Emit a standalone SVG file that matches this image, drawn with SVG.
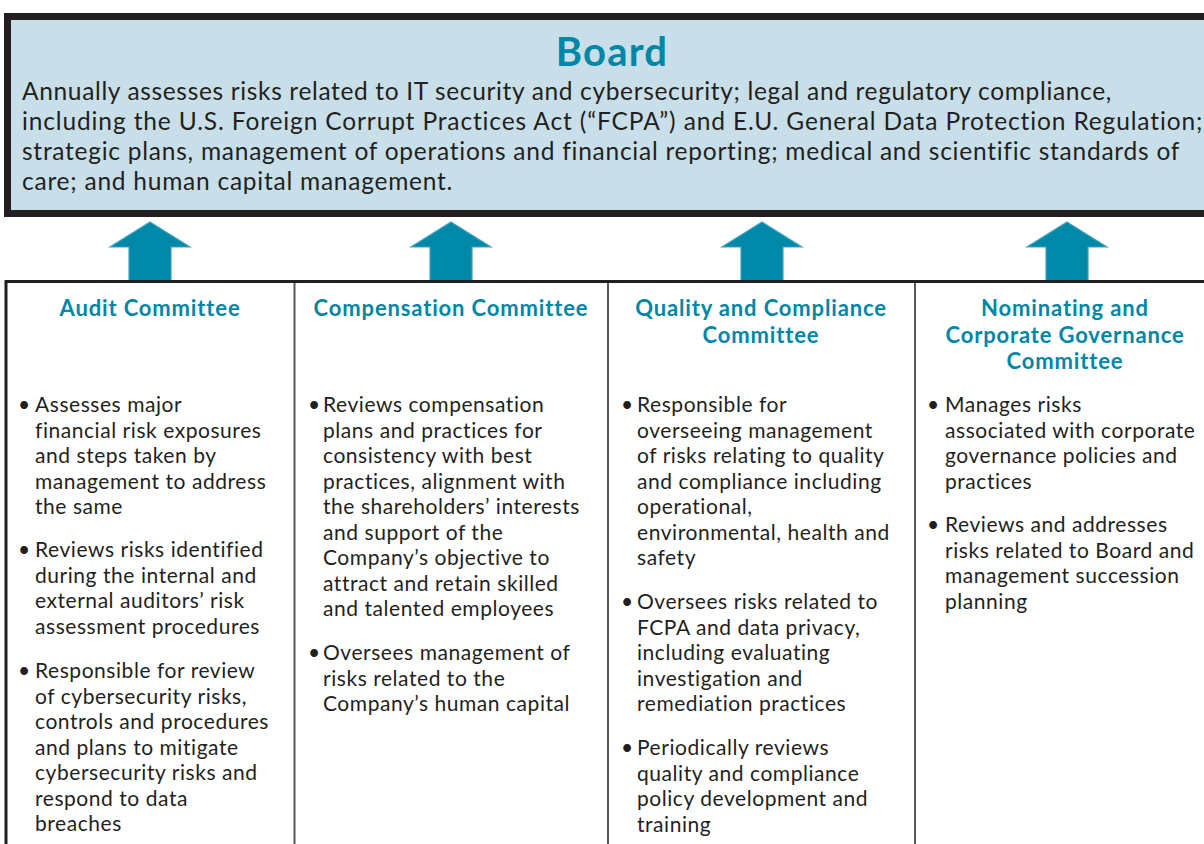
<svg xmlns="http://www.w3.org/2000/svg" width="1204" height="844" viewBox="0 0 1204 844">
<style>
text{font-family:"Lato","Noto Sans",sans-serif;fill:#231f20}
.body{font-size:24.5px;letter-spacing:0.65px}
.t{font-size:21px;letter-spacing:0.55px}
.h{font-size:22px;font-weight:bold;fill:#0086a6;text-anchor:middle;letter-spacing:0.85px}
.title{font-size:40px;font-weight:bold;fill:#0086a6;text-anchor:middle;letter-spacing:1.2px}
.arrow{fill:#0088a8;stroke:#3ea3bd;stroke-width:1.2}
.div{stroke:#58595b;stroke-width:2}
</style>
<rect width="1204" height="844" fill="#fff"/>
<g id="board">
<rect x="7.5" y="16.5" width="1210" height="197" fill="#c8dfe9" stroke="#231f20" stroke-width="7"/>
<text class="title" x="612" y="66">Board</text>
<text class="body" x="22" y="100" textLength="1090" lengthAdjust="spacing">Annually assesses risks related to IT security and cybersecurity; legal and regulatory compliance,</text>
<text class="body" x="22" y="130" textLength="1181" lengthAdjust="spacing">including the U.S. Foreign Corrupt Practices Act (“FCPA”) and E.U. General Data Protection Regulation;</text>
<text class="body" x="22" y="160" textLength="1158" lengthAdjust="spacing">strategic plans, management of operations and financial reporting; medical and scientific standards of</text>
<text class="body" x="22" y="190" textLength="431" lengthAdjust="spacing">care; and human capital management.</text>
</g>
<g id="connectors">
<polygon class="arrow" points="150,222 190,247 171,247 171,281 129,281 129,247 110,247"/>
<polygon class="arrow" points="451,222 491,247 472,247 472,281 430,281 430,247 411,247"/>
<polygon class="arrow" points="762,222 802,247 783,247 783,281 741,281 741,247 722,247"/>
<polygon class="arrow" points="1067,222 1107,247 1088,247 1088,281 1046,281 1046,247 1027,247"/>
</g>
<g id="panel">
<rect x="6" y="281.5" width="1210" height="600" fill="none" stroke="#231f20" stroke-width="3"/>
<line class="div" x1="294.5" y1="283" x2="294.5" y2="844"/>
<line class="div" x1="608" y1="283" x2="608" y2="844"/>
<line class="div" x1="915" y1="283" x2="915" y2="844"/>
</g>
<g id="audit">
<text class="h" x="150" y="316">Audit Committee</text>
<text class="t" x="18" y="412">•</text>
<text class="t" x="35" y="412">Assesses major</text>
<text class="t" x="35" y="437.5">financial risk exposures</text>
<text class="t" x="35" y="463">and steps taken by</text>
<text class="t" x="35" y="488.5">management to address</text>
<text class="t" x="35" y="514">the same</text>
<text class="t" x="18" y="557">•</text>
<text class="t" x="35" y="557">Reviews risks identified</text>
<text class="t" x="35" y="582.5">during the internal and</text>
<text class="t" x="35" y="608">external auditors’ risk</text>
<text class="t" x="35" y="633.5">assessment procedures</text>
<text class="t" x="18" y="678">•</text>
<text class="t" x="35" y="678">Responsible for review</text>
<text class="t" x="35" y="703.5">of cybersecurity risks,</text>
<text class="t" x="35" y="729">controls and procedures</text>
<text class="t" x="35" y="754.5">and plans to mitigate</text>
<text class="t" x="35" y="780">cybersecurity risks and</text>
<text class="t" x="35" y="805.5">respond to data</text>
<text class="t" x="35" y="831">breaches</text>
</g>
<g id="compensation">
<text class="h" x="451" y="316">Compensation Committee</text>
<text class="t" x="308" y="412">•</text>
<text class="t" x="323" y="412">Reviews compensation</text>
<text class="t" x="323" y="437.5">plans and practices for</text>
<text class="t" x="323" y="463">consistency with best</text>
<text class="t" x="323" y="488.5">practices, alignment with</text>
<text class="t" x="323" y="514">the shareholders’ interests</text>
<text class="t" x="323" y="539.5">and support of the</text>
<text class="t" x="323" y="565">Company’s objective to</text>
<text class="t" x="323" y="590.5">attract and retain skilled</text>
<text class="t" x="323" y="616">and talented employees</text>
<text class="t" x="308" y="660">•</text>
<text class="t" x="323" y="660">Oversees management of</text>
<text class="t" x="323" y="685.5">risks related to the</text>
<text class="t" x="323" y="711">Company’s human capital</text>
</g>
<g id="quality">
<text class="h" x="761" y="316">Quality and Compliance</text>
<text class="h" x="761" y="343">Committee</text>
<text class="t" x="621" y="412">•</text>
<text class="t" x="637" y="412">Responsible for</text>
<text class="t" x="637" y="437.5">overseeing management</text>
<text class="t" x="637" y="463">of risks relating to quality</text>
<text class="t" x="637" y="488.5">and compliance including</text>
<text class="t" x="637" y="514">operational,</text>
<text class="t" x="637" y="539.5">environmental, health and</text>
<text class="t" x="637" y="565">safety</text>
<text class="t" x="621" y="609">•</text>
<text class="t" x="637" y="609">Oversees risks related to</text>
<text class="t" x="637" y="634.5">FCPA and data privacy,</text>
<text class="t" x="637" y="660">including evaluating</text>
<text class="t" x="637" y="685.5">investigation and</text>
<text class="t" x="637" y="711">remediation practices</text>
<text class="t" x="621" y="755">•</text>
<text class="t" x="637" y="755">Periodically reviews</text>
<text class="t" x="637" y="780.5">quality and compliance</text>
<text class="t" x="637" y="806">policy development and</text>
<text class="t" x="637" y="831.5">training</text>
</g>
<g id="nominating">
<text class="h" x="1065" y="316">Nominating and</text>
<text class="h" x="1065" y="343">Corporate Governance</text>
<text class="h" x="1065" y="369">Committee</text>
<text class="t" x="927" y="412">•</text>
<text class="t" x="945" y="412">Manages risks</text>
<text class="t" x="945" y="437.5">associated with corporate</text>
<text class="t" x="945" y="463">governance policies and</text>
<text class="t" x="945" y="488.5">practices</text>
<text class="t" x="927" y="532">•</text>
<text class="t" x="945" y="532">Reviews and addresses</text>
<text class="t" x="945" y="557.5">risks related to Board and</text>
<text class="t" x="945" y="583">management succession</text>
<text class="t" x="945" y="608.5">planning</text>
</g>
</svg>
